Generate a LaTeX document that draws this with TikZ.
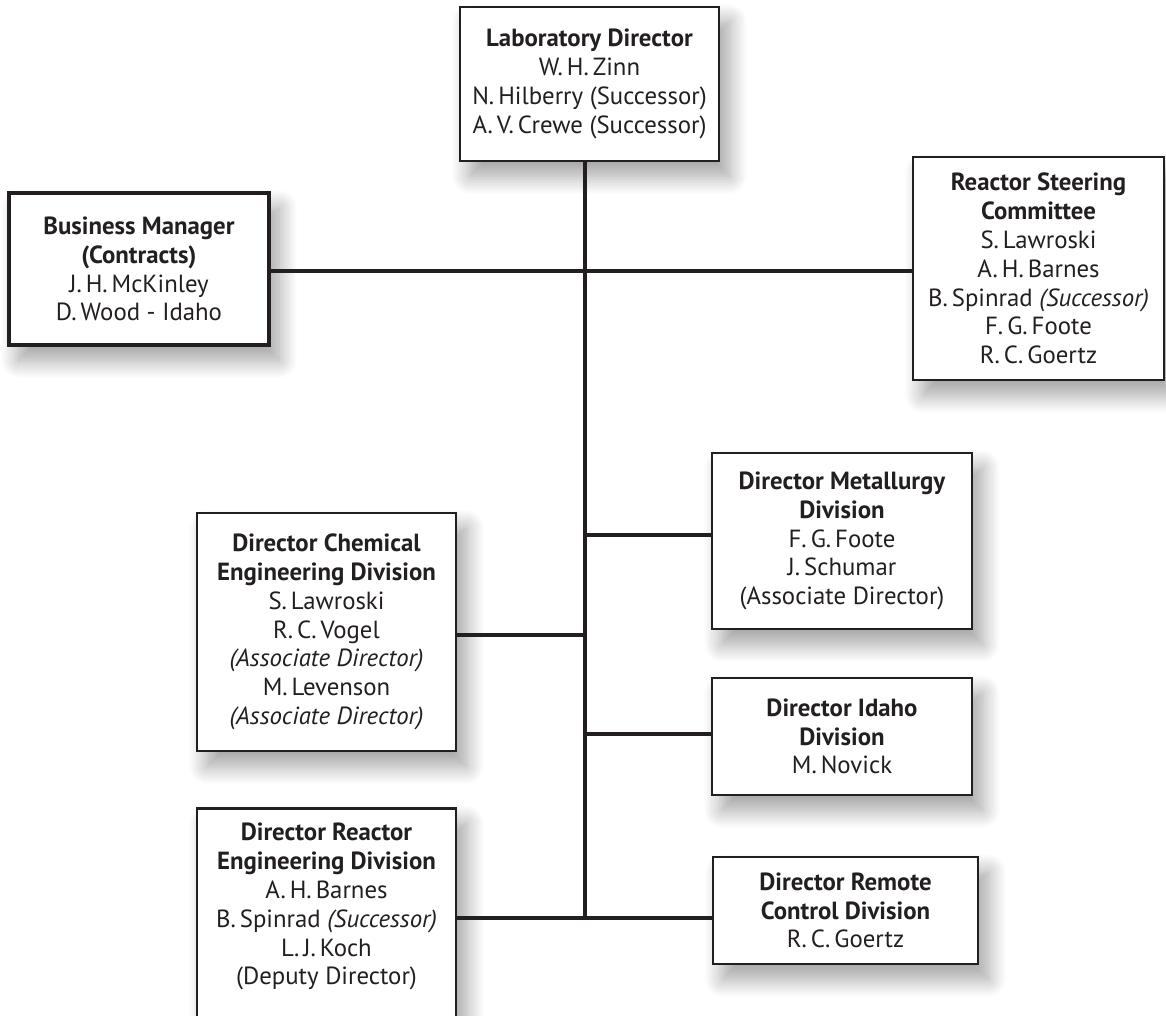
\documentclass[tikz,border=0pt]{standalone}
\usepackage{fontspec}
\setmainfont{PT Sans}
\usetikzlibrary{shadows.blur}
\definecolor{ink}{HTML}{231F20}
\newcommand{\ini}{\hspace{0.16em}}
\begin{document}
\begin{tikzpicture}[x=1pt,y=-1pt,
  txt/.style={text=ink, align=center, inner sep=0pt, font=\fontsize{24.8}{28.8}\selectfont},
  box/.style={txt, draw=ink, line width=2.8pt, fill=white,
    blur shadow={shadow xshift=10pt, shadow yshift=-15pt, shadow blur radius=18pt, shadow blur steps=16, shadow opacity=38}},
  wire/.style={draw=ink, line width=3.2pt}
]
\useasboundingbox (0,0) rectangle (1166,1015);

\node[box, minimum width=259pt, minimum height=154pt] (lab) at (589.5,84)
  {\textbf{Laboratory Director}\\W.\ini H.\ini Zinn\\N.\ini Hilberry (Successor)\\A.\ini V.\ini Crewe (Successor)};

\node[box, line width=4pt, minimum width=260pt, minimum height=152pt] (bus) at (139,269)
  {\textbf{Business Manager}\\\textbf{(Contracts)}\\J.\ini H.\ini McKinley\\D.\ini Wood - Idaho};

\node[box, minimum width=251pt, minimum height=223pt] (rsc) at (1038.5,268.5)
  {\textbf{Reactor Steering}\\\textbf{Committee}\\S.\ini Lawroski\\A.\ini H.\ini Barnes\\B.\ini Spinrad \textit{(Successor)}\\F.\ini G.\ini Foote\\R.\ini C.\ini Goertz};

\node[box, minimum width=260pt, minimum height=176pt] (met) at (842,541)
  {\textbf{Director Metallurgy}\\\textbf{Division}\\F.\ini G.\ini Foote\\J.\ini Schumar\\(Associate Director)};

\node[box, minimum width=259pt, minimum height=238pt] (chem) at (326.5,632)
  {\textbf{Director Chemical}\\\textbf{Engineering Division}\\S.\ini Lawroski\\R.\ini C.\ini Vogel\\\textit{(Associate Director)}\\M.\ini Levenson\\\textit{(Associate Director)}};

\node[box, minimum width=260pt, minimum height=117pt] (idaho) at (842,736.5)
  {\textbf{Director Idaho}\\\textbf{Division}\\M.\ini Novick};

\node[box, minimum width=265pt, minimum height=107pt] (rem) at (845.5,910.5)
  {\textbf{Director Remote}\\\textbf{Control Division}\\R.\ini C.\ini Goertz};

\node[box, minimum width=259pt, minimum height=240pt, anchor=north] (reng) at (326.5,807) {};
\node[txt, anchor=north] (rengtxt) at (326.5,823)
  {\textbf{Director Reactor}\\\textbf{Engineering Division}\\A.\ini H.\ini Barnes\\B.\ini Spinrad \textit{(Successor)}\\L.\ini J.\ini Koch\\(Deputy Director)};

\coordinate (j1) at (585,271);
\coordinate (jm) at (585,535);
\coordinate (jc) at (585,635);
\coordinate (ji) at (585,734);
\coordinate (jb) at (585,918);

\draw[wire] (lab.south -| jb) -- (jb);
\draw[wire] (bus.east |- j1) -- (rsc.west |- j1);
\draw[wire] (jm) -- (met.west |- jm);
\draw[wire] (chem.east |- jc) -- (jc);
\draw[wire] (ji) -- (idaho.west |- ji);
\draw[wire] (reng.east |- jb) -- (rem.west |- jb);
\end{tikzpicture}
\end{document}
